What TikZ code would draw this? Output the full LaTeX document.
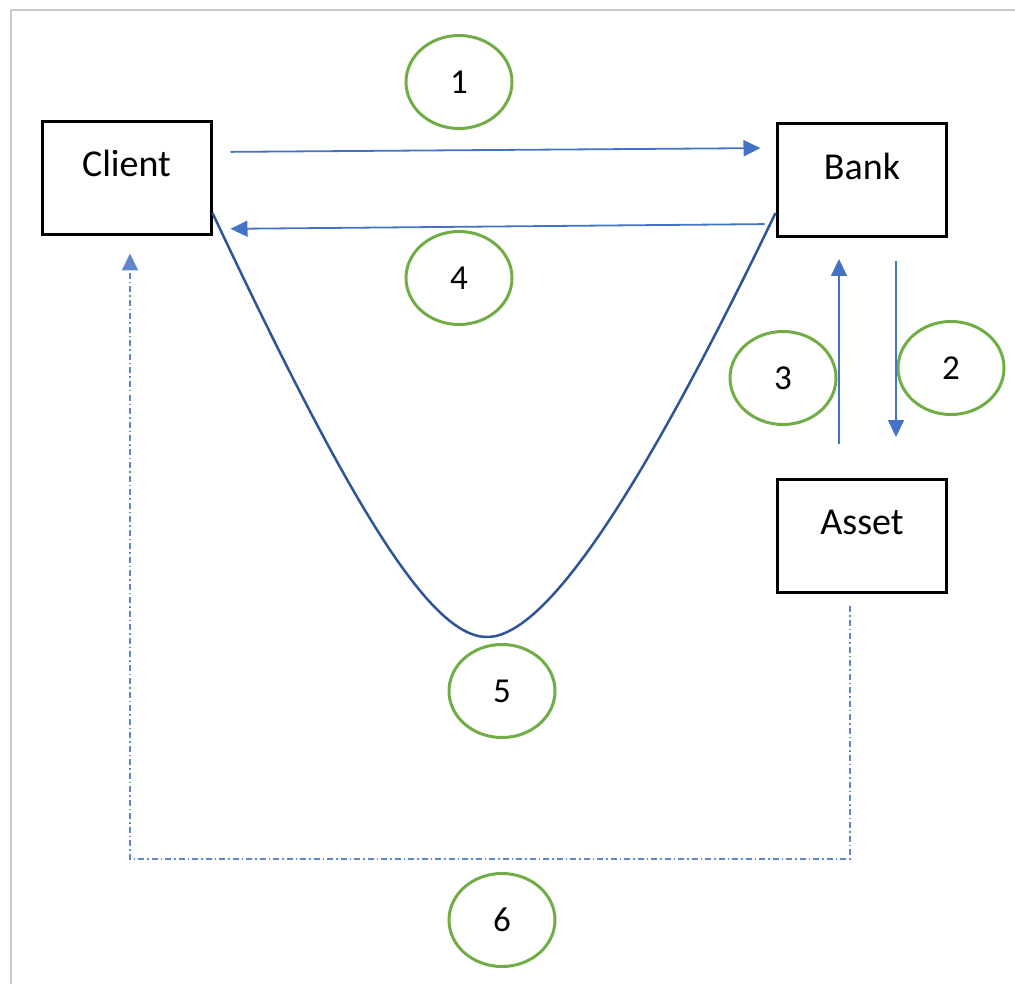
\documentclass[tikz,border=0pt]{standalone}
\usepackage{fontspec}
\setmainfont{Carlito}
\usetikzlibrary{arrows.meta,shapes.geometric,calc}
\definecolor{oblue}{HTML}{4472C4}
\definecolor{dblue}{HTML}{2F5597}
\definecolor{ogreen}{HTML}{70AD47}
\definecolor{frameg}{HTML}{C8C8C8}
\begin{document}
\begin{tikzpicture}[x=1pt,y=-1pt,
  box/.style={draw=black,line width=3pt,minimum width=169pt,minimum height=113pt,inner sep=0pt},
  boxtext/.style={font=\fontsize{38}{44}\selectfont,inner sep=0pt},
  num/.style={ellipse,draw=ogreen,line width=3pt,minimum width=106pt,minimum height=93pt,inner sep=0pt,font=\fontsize{35}{40}\selectfont},
  arr/.style={draw=oblue,line width=1.8pt,-{Triangle[length=17pt,width=16pt]}},
  curveline/.style={draw=dblue,line width=2.5pt},
  dd/.style={draw=oblue!85,line width=2pt,dash pattern=on 6pt off 3pt on 1.5pt off 3pt,-{Triangle[length=17pt,width=16pt]}},
  frameline/.style={draw=frameg,line width=2pt}]
\useasboundingbox (0,0) rectangle (1015,984);
\draw[frameline] (11,984) -- (11,10) -- (1015,10);
% boxes
\node[box] (client) at (126.5,178.5) {};
\node[box] (bank) at (861.5,180) {};
\node[box] (asset) at (861.5,536) {};
\node[boxtext] (clientt) at (126.5,163) {Client};
\node[boxtext] (bankt) at (862,166) {Bank};
\node[boxtext] (assett) at (862,522) {Asset};
% numbered ellipses
\node[num] (n1) at (459,82) {1};
\node[num] (n4) at (459,278) {4};
\node[num] (n3) at (783,378) {3};
\node[num] (n2) at (951,368) {2};
\node[num] (n5) at (502,691) {5};
\node[num] (n6) at (502,920) {6};
% arrows
\draw[arr,shorten <=18pt,shorten >=15pt] ([yshift=26.5pt]client.east) -- ([yshift=32pt]bank.west);
\draw[arr,shorten <=11pt,shorten >=18pt] ([yshift=-44pt]bank.west) -- ([yshift=-50.5pt]client.east);
\draw[arr,shorten <=34pt,shorten >=21pt] ([xshift=-22.5pt]asset.north) -- ([xshift=-22.5pt]bank.south);
\draw[arr,shorten <=23pt,shorten >=41pt] ([xshift=34.5pt]bank.south) -- ([xshift=34.5pt]asset.north);
% curve
\draw[curveline] ([yshift=-34.5pt]client.east) .. controls (350,505) and (430,637) .. (487,637) .. controls (545,637) and (640,495) .. ([yshift=-33pt]bank.west);
% dash-dot return
\draw[dd] ([xshift=-12pt,yshift=-12pt]asset.south) -- ++(0,253) -| ([xshift=3.5pt,yshift=-17pt]client.south);
\end{tikzpicture}
\end{document}
